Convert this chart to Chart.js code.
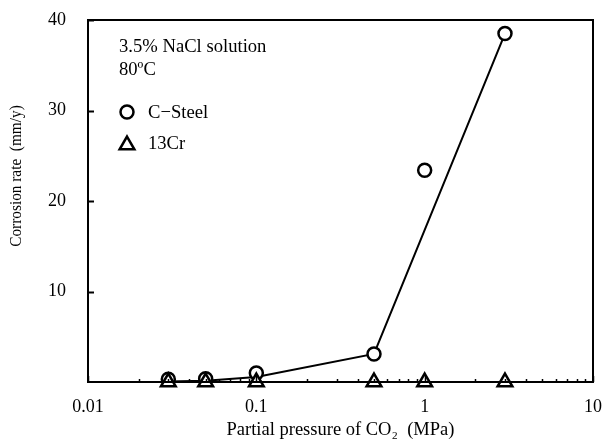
<!DOCTYPE html>
<html>
<head>
<meta charset="utf-8">
<script src="https://cdn.jsdelivr.net/npm/chart.js@4/dist/chart.umd.min.js"></script>
<style>
  body { margin: 0; background: #fff; }
  #wrap { width: 605px; height: 441px; }
</style>
</head>
<body>
<div id="wrap"><canvas id="corrosionChart" width="605" height="441"></canvas></div>
<script>
// partial pressure of CO2 (MPa)
const pressures = [0.03, 0.05, 0.1, 0.5, 1, 3];
// corrosion rates (mm/y)
const steelRates = [0.3, 0.35, 1.0, 3.1, 23.4, 38.5];
const cr13Rates = [0, 0, 0, 0, 0, 0];
// hand drawn trend line for C-Steel
const trendPressures = [0.03, 0.05, 0.1, 0.5, 3];
const trendRates = [0.05, 0.15, 0.55, 3.1, 38.5];

const xTickLabels = [0.01, 0.1, 1, 10];
const yTickLabels = [10, 20, 30, 40];

const serif = '"Liberation Serif", "Times New Roman", serif';

// 1..9 x 10^n between the axis ends, used for the little inside ticks
function logTicks(min, max) {
  const out = [];
  for (let e = Math.floor(Math.log10(min)); e <= Math.ceil(Math.log10(max)); e++) {
    for (let k = 1; k <= 9; k++) {
      const v = +(k * Math.pow(10, e)).toPrecision(3);
      if (v >= min && v <= max) out.push(v);
    }
  }
  return out;
}

const toPoints = (xs, ys) => xs.map((x, i) => ({x: x, y: ys[i]}));

// the original type is a bit narrower than Liberation Serif, so squeeze it a little
function squeezedText(ctx, text, x, y, squeeze) {
  ctx.save();
  ctx.translate(x, y);
  ctx.scale(squeeze, 1);
  ctx.fillText(text, 0, 0);
  ctx.restore();
}

// frame, inward ticks, y title and the text block in the upper left corner
const framePlugin = {
  id: 'frame',
  afterDraw(chart) {
    const ctx = chart.ctx;
    const area = chart.chartArea;
    const xScale = chart.scales.x;
    const yScale = chart.scales.y;
    ctx.save();
    ctx.strokeStyle = '#000';
    ctx.lineWidth = 2;
    ctx.strokeRect(area.left, area.top, area.right - area.left, area.bottom - area.top);

    // y ticks pointing into the plot
    yTickLabels.forEach(v => {
      const py = Math.round(yScale.getPixelForValue(v)) + 0.5;
      ctx.beginPath();
      ctx.moveTo(area.left, py);
      ctx.lineTo(area.left + 6, py);
      ctx.stroke();
    });

    // x ticks, short ones for the minor values
    ctx.lineWidth = 1.5;
    xScale.ticks.forEach(t => {
      const px = Math.round(xScale.getPixelForValue(t.value)) + 0.5;
      const len = xTickLabels.includes(t.value) ? 6 : 3;
      ctx.beginPath();
      ctx.moveTo(px, area.bottom);
      ctx.lineTo(px, area.bottom - len);
      ctx.stroke();
    });

    ctx.fillStyle = '#000';
    ctx.textBaseline = 'middle';

    // y axis title, sits a bit above the middle of the axis
    ctx.save();
    ctx.translate(17, area.top + 156);
    ctx.rotate(-Math.PI / 2);
    ctx.textAlign = 'center';
    ctx.font = '17px ' + serif;
    squeezedText(ctx, 'Corrosion rate  (mm/y)', 0, 0, 0.9);
    ctx.restore();

    // notes and legend
    const left = area.left + 31;
    ctx.font = '19.5px ' + serif;
    ctx.textAlign = 'left';
    squeezedText(ctx, '3.5% NaCl solution', left, area.top + 27, 0.955);
    squeezedText(ctx, '80ºC', left, area.top + 50, 0.955);

    const markX = area.left + 39;
    ctx.lineWidth = 2.5;
    ctx.fillStyle = '#fff';
    Chart.helpers.drawPoint(ctx, {pointStyle: 'circle', radius: 6.5, borderWidth: 2.5, rotation: 0}, markX, area.top + 92);
    Chart.helpers.drawPoint(ctx, {pointStyle: 'triangle', radius: 8.5, borderWidth: 2.5, rotation: 0}, markX, area.top + 125);
    ctx.fillStyle = '#000';
    squeezedText(ctx, 'C−Steel', area.left + 60, area.top + 93, 0.955);
    squeezedText(ctx, '13Cr', area.left + 60, area.top + 124, 0.955);
    ctx.restore();
  }
};

// drop the extra room chart.js keeps for the end labels, layout padding sets the plot box
const noEdgePadding = scale => {
  scale.paddingTop = 0;
  scale.paddingBottom = 0;
  scale.paddingLeft = 0;
  scale.paddingRight = 0;
};

const ctx = document.getElementById('corrosionChart').getContext('2d');
new Chart(ctx, {
  type: 'scatter',
  data: {
    datasets: [
      {
        label: 'C-Steel',
        data: toPoints(pressures, steelRates),
        showLine: false,
        clip: false,
        pointStyle: 'circle',
        pointRadius: 6.5,
        pointBorderWidth: 2.5,
        pointBackgroundColor: '#fff',
        pointBorderColor: '#000',
        order: 1
      },
      {
        label: '13Cr',
        data: toPoints(pressures, cr13Rates),
        showLine: false,
        clip: false,
        pointStyle: 'triangle',
        pointRadius: 8.5,
        pointBorderWidth: 2.5,
        pointBackgroundColor: '#fff',
        pointBorderColor: '#000',
        order: 0
      },
      {
        label: 'trend',
        data: toPoints(trendPressures, trendRates),
        showLine: true,
        borderColor: '#000',
        borderWidth: 2,
        pointRadius: 0,
        tension: 0,
        order: 2
      }
    ]
  },
  options: {
    responsive: false,
    animation: false,
    layout: { padding: { left: 0, right: 12, top: 20, bottom: 0 } },
    plugins: {
      legend: { display: false },
      tooltip: { enabled: false }
    },
    elements: { point: { hoverRadius: 6.5 } },
    scales: {
      x: {
        type: 'logarithmic',
        min: 0.01,
        max: 10,
        afterBuildTicks: scale => {
          scale.ticks = logTicks(0.01, 10).map(v => ({value: v}));
        },
        afterFit: scale => {
          scale.height = 59;
          noEdgePadding(scale);
        },
        grid: { display: false, drawTicks: false },
        border: { display: false },
        ticks: {
          autoSkip: false,
          maxRotation: 0,
          padding: 14,
          color: '#000',
          font: { family: serif, size: 18 },
          callback: v => xTickLabels.includes(v) ? String(v) : ''
        },
        title: {
          display: true,
          text: 'Partial pressure of CO₂  (MPa)',
          color: '#000',
          font: { family: serif, size: 18.5 },
          padding: { top: 0, bottom: 0 }
        }
      },
      y: {
        min: 0,
        max: 40,
        afterFit: scale => {
          scale.width = 88;
          noEdgePadding(scale);
        },
        grid: { display: false, drawTicks: false },
        border: { display: false },
        ticks: {
          stepSize: 10,
          padding: 22,
          color: '#000',
          font: { family: serif, size: 18 },
          callback: v => yTickLabels.includes(v) ? String(v) : ''
        }
      }
    }
  },
  plugins: [framePlugin]
});
</script>
</body>
</html>
